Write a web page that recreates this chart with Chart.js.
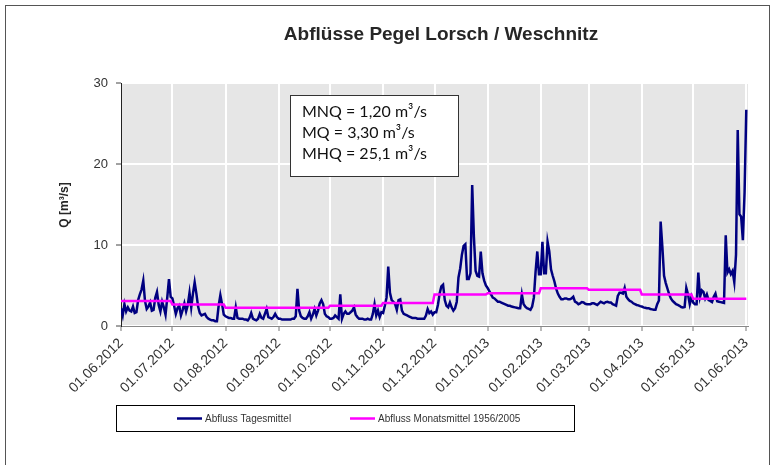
<!DOCTYPE html>
<html><head><meta charset="utf-8">
<script src="https://cdn.jsdelivr.net/npm/chart.js@4.4.0/dist/chart.umd.min.js"></script>
<style>html,body{margin:0;padding:0;background:#fff}canvas{display:block}</style>
</head><body>
<canvas id="c" width="775" height="465"></canvas>
<script>
const chartTitle = 'Abflüsse Pegel Lorsch / Weschnitz';
const yAxisTitle = 'Q [m³/s]';
const seriesNames = ['Abfluss Tagesmittel', 'Abfluss Monatsmittel 1956/2005'];
const infoLines = ['MNQ = 1,20 m³/s', 'MQ = 3,30 m³/s', 'MHQ = 25,1 m³/s'];
const tickLabels = ['01.06.2012','01.07.2012','01.08.2012','01.09.2012','01.10.2012','01.11.2012','01.12.2012',
  '01.01.2013','01.02.2013','01.03.2013','01.04.2013','01.05.2013','01.06.2013'];
const yTicks = [0, 10, 20, 30];
// daily mean discharge, one value per day from 01.06.2012 to 01.06.2013
const dailyFlow = [
  // Jun 2012
  2.2,1.3,2.7,1.8,2.3,1.9,1.8,2.4,1.6,1.7,3.2,3.9,4.5,5.6,3.1,2.1,2.4,2.9,1.9,2.0,3.5,4.2,2.6,1.8,3.0,2.3,1.4,3.5,5.8,3.6,
  // Jul
  3.4,2.5,1.5,2.2,2.5,1.3,2.0,2.8,1.8,2.6,4.1,2.3,4.0,5.4,4.0,2.4,1.6,1.3,1.4,1.5,1.1,0.9,0.8,0.7,0.7,0.6,0.6,2.5,3.8,2.7,1.4,
  // Aug
  1.2,1.1,1.0,1.0,0.9,0.9,2.3,1.0,0.9,0.9,0.9,0.8,0.8,0.7,1.0,1.6,0.9,0.8,0.7,0.9,1.5,1.0,0.9,1.5,2.1,1.1,1.0,0.9,1.1,1.5,1.1,
  // Sep
  0.9,0.9,0.8,0.8,0.8,0.8,0.8,0.8,0.9,0.9,1.2,4.6,1.9,1.2,1.0,0.9,0.9,1.2,1.7,0.9,1.4,2.1,1.3,1.9,2.8,3.2,2.7,1.5,1.2,1.1,
  // Oct
  0.9,0.9,1.0,1.3,1.1,0.9,3.9,0.9,1.5,1.8,1.5,1.5,1.7,1.9,2.3,1.4,1.1,0.9,0.9,0.9,0.8,0.8,0.9,0.8,0.8,1.5,2.7,1.3,1.9,1.1,1.7,
  // Nov
  1.6,2.5,3.5,7.35,4.1,3.2,3.0,2.7,2.0,3.2,3.3,1.9,1.5,1.4,1.3,1.2,1.1,1.0,1.0,1.0,0.9,0.9,0.9,0.9,0.9,1.3,2.1,1.6,1.8,1.4,
  // Dec
  1.7,1.7,2.6,4.0,4.9,5.1,3.2,2.5,2.3,2.9,2.3,1.9,2.2,3.0,6.0,7.1,8.8,9.9,10.1,5.8,5.8,6.5,17.4,11.0,6.8,6.2,6.1,9.2,6.5,5.6,5.0,
  // Jan 2013
  4.7,4.3,3.9,3.5,3.4,3.2,3.0,3.0,2.9,2.8,2.7,2.6,2.5,2.5,2.4,2.35,2.3,2.25,2.2,2.2,3.9,2.7,2.4,2.2,2.1,2.0,2.4,3.5,6.7,9.2,6.4,
  // Feb
  6.4,10.4,6.5,6.5,10.4,9.2,7.0,6.2,5.5,4.6,4.0,3.6,3.3,3.3,3.4,3.4,3.3,3.3,3.4,3.6,3.0,2.9,2.7,2.8,2.95,2.9,2.75,2.7,
  // Mar
  2.7,2.7,2.8,2.8,2.7,2.6,2.8,3.0,2.9,2.8,2.95,3.0,2.9,2.9,2.7,2.6,2.5,3.7,4.1,4.1,4.0,4.7,3.6,3.3,3.1,3.0,2.8,2.7,2.6,2.55,2.45,
  // Apr
  2.4,2.3,2.25,2.2,2.2,2.1,2.05,2.0,2.0,2.7,3.15,12.9,9.8,6.2,5.3,4.6,3.9,3.4,3.1,2.9,2.7,2.6,2.5,2.35,2.3,2.35,4.7,3.9,2.7,3.6,
  // May
  2.9,2.7,2.7,6.6,3.6,4.4,4.2,3.4,3.9,3.2,3.1,2.95,3.6,4.0,3.05,3.0,2.95,2.9,2.85,11.2,6.6,7.0,6.4,6.8,5.4,8.8,24.2,13.8,13.5,10.6,16.5,
  // 01.06.2013
  26.7
];
// long-term monthly mean 1956/2005, Jun .. May
const monthlyMean = [3.1, 2.65, 2.25, 2.25, 2.5, 2.85, 3.9, 4.05, 4.65, 4.47, 3.9, 3.35];

function dayOffset(label) {
  const p = label.split('.').map(Number);
  return Math.round((Date.UTC(p[2], p[1] - 1, p[0]) - Date.UTC(2012, 5, 1)) / 86400000);
}
const tickDays = tickLabels.map(dayOffset);
const flowPoints = dailyFlow.map((v, i) => ({ x: i, y: v }));
const meanPoints = [];
monthlyMean.forEach((v, i) => {
  meanPoints.push({ x: tickDays[i], y: v });
  meanPoints.push({ x: i === monthlyMean.length - 1 ? tickDays[i + 1] : tickDays[i + 1] - 1, y: v });
});

const FONT = "'Liberation Sans', Arial, sans-serif";

const decor = {
  id: 'decor',
  beforeDraw(chart) {
    const { ctx, chartArea: a } = chart;
    ctx.save();
    ctx.fillStyle = '#fff';
    ctx.fillRect(0, 0, chart.width, chart.height);
    ctx.fillStyle = '#e6e6e6';
    ctx.fillRect(a.left, a.top, a.right - a.left, a.bottom - a.top);
    ctx.restore();
  },
  afterDraw(chart) {
    const { ctx } = chart;
    ctx.save();
    // outer frame
    ctx.strokeStyle = '#555';
    ctx.lineWidth = 1;
    ctx.strokeRect(5.5, 5.5, 764, 480);
    // title
    ctx.fillStyle = '#262626';
    ctx.font = 'bold 19px ' + FONT;
    ctx.textAlign = 'center';
    ctx.textBaseline = 'middle';
    ctx.fillText(chartTitle, 441, 35);
    // y axis title
    ctx.save();
    ctx.translate(65, 205);
    ctx.rotate(-Math.PI / 2);
    ctx.font = 'bold 12px ' + FONT;
    ctx.fillText(yAxisTitle, 0, 0);
    ctx.restore();
    // info box
    ctx.fillStyle = '#fff';
    ctx.fillRect(290, 95, 168, 81);
    ctx.strokeStyle = '#333';
    ctx.strokeRect(290.5, 95.5, 168, 81);
    ctx.fillStyle = '#111';
    ctx.font = "16px Lato, 'Open Sans', sans-serif";
    ctx.textAlign = 'left';
    infoLines.forEach((t, i) => ctx.fillText(t, 302, 112 + i * 21));
    // legend
    ctx.strokeStyle = '#000';
    ctx.strokeRect(116.5, 405.5, 458, 26);
    const ds = chart.data.datasets;
    const items = [{ x: 177, d: ds[1] }, { x: 350, d: ds[0] }];
    ctx.font = '10px ' + FONT;
    items.forEach(it => {
      ctx.strokeStyle = it.d.borderColor;
      ctx.lineWidth = 2.5;
      ctx.beginPath();
      ctx.moveTo(it.x, 418.5);
      ctx.lineTo(it.x + 25, 418.5);
      ctx.stroke();
      ctx.fillStyle = '#333';
      ctx.fillText(it.d.label, it.x + 28, 419);
    });
    ctx.restore();
  }
};

new Chart(document.getElementById('c'), {
  type: 'line',
  data: {
    datasets: [
      { label: seriesNames[1], data: meanPoints, borderColor: '#ff00ff', borderWidth: 2.5, pointRadius: 0, tension: 0, order: 0 },
      { label: seriesNames[0], data: flowPoints, borderColor: '#000080', borderWidth: 2.5, pointRadius: 0, tension: 0, order: 1 }
    ]
  },
  options: {
    responsive: false,
    animation: false,
    devicePixelRatio: 1,
    layout: { padding: { top: 83, right: 27, left: 0, bottom: 0 } },
    plugins: { legend: { display: false }, title: { display: false }, tooltip: { enabled: false } },
    scales: {
      x: {
        type: 'linear', min: 0, max: 366,
        afterBuildTicks: s => { s.ticks = tickDays.map(v => ({ value: v })); },
        afterFit: s => { s.height = 139; },
        ticks: { autoSkip: false, minRotation: 45, maxRotation: 45, padding: 4, color: '#333',
          font: { family: FONT, size: 14 }, callback: (v, i) => tickLabels[i] },
        grid: { color: '#fff', lineWidth: 2, tickColor: '#777', tickWidth: 1, tickLength: 5 },
        border: { color: '#888', width: 1 }
      },
      y: {
        min: 0, max: 30,
        afterBuildTicks: s => { s.ticks = yTicks.map(v => ({ value: v })); },
        afterFit: s => { s.width = 121; },
        ticks: { padding: 8, color: '#333', font: { family: FONT, size: 13 } },
        grid: { color: '#fff', lineWidth: 2, tickColor: '#444', tickWidth: 1, tickLength: 5 },
        border: { color: '#222', width: 1 }
      }
    }
  },
  plugins: [decor]
});
</script>
</body></html>
